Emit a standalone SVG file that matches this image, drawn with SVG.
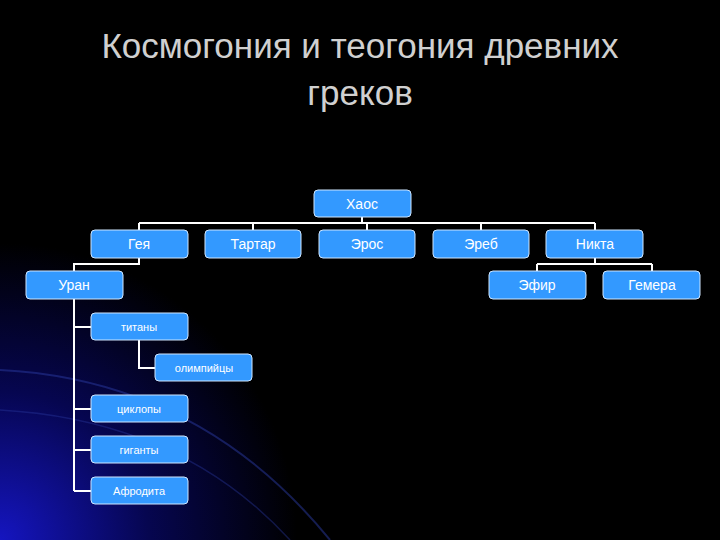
<svg xmlns="http://www.w3.org/2000/svg" width="720" height="540" viewBox="0 0 720 540">
<defs>
<radialGradient id="glow" cx="0" cy="1" r="0.55" gradientTransform="scale(0.75,1)">
<stop offset="0" stop-color="#1515c0"/>
<stop offset="0.5" stop-color="#060650"/>
<stop offset="1" stop-color="#000000"/>
</radialGradient>
<style>
.n rect{fill:#3399ff;stroke:#cfe6ff;stroke-width:1}
.n text{fill:#ffffff;font-family:"Liberation Sans",Arial,sans-serif;font-size:14px;text-anchor:middle;dominant-baseline:central}
.s text{font-size:11px}
.c{stroke:#ffffff;stroke-width:2;fill:none}
.t{fill:#d0d0d0;font-family:"Liberation Sans",Arial,sans-serif;font-size:35px;text-anchor:middle}
</style>
</defs>
<rect width="720" height="540" fill="#000"/>
<rect width="720" height="540" fill="url(#glow)"/>
<path d="M0 370 Q200 380 330 540" stroke="#2a3aa0" stroke-width="2" fill="none" opacity="0.5"/>
<path d="M0 410 Q180 420 290 540" stroke="#2a3aa0" stroke-width="1.5" fill="none" opacity="0.4"/>
<text class="t" x="360" y="58">Космогония и теогония древних</text>
<text class="t" x="360" y="105">греков</text>
<g id="connectors" class="c">
<path d="M362 217V223M139 223H595M139 223V230M253 223V230M367 223V230M481 223V230M595 223V230"/>
<path d="M139 258V264H74V271"/>
<path d="M595 258V264M537 264H652M537 264V271M652 264V271"/>
<path d="M74 299V491M74 327H91M74 409H91M74 450H91M74 491H91"/>
<path d="M139 340V368H155"/>
</g>
<g id="haos" class="n"><rect x="314" y="190" width="97" height="27" rx="4"/><text x="362" y="204">Хаос</text></g>
<g id="geya" class="n"><rect x="91" y="230" width="97" height="28" rx="4"/><text x="139" y="244">Гея</text></g>
<g id="tartar" class="n"><rect x="205" y="230" width="96" height="28" rx="4"/><text x="253" y="244">Тартар</text></g>
<g id="eros" class="n"><rect x="319" y="230" width="96" height="28" rx="4"/><text x="367" y="244">Эрос</text></g>
<g id="ereb" class="n"><rect x="433" y="230" width="96" height="28" rx="4"/><text x="481" y="244">Эреб</text></g>
<g id="nikta" class="n"><rect x="546" y="230" width="97" height="28" rx="4"/><text x="595" y="244">Никта</text></g>
<g id="uran" class="n"><rect x="26" y="271" width="97" height="28" rx="4"/><text x="74" y="285">Уран</text></g>
<g id="efir" class="n"><rect x="489" y="271" width="97" height="28" rx="4"/><text x="537" y="285">Эфир</text></g>
<g id="gemera" class="n"><rect x="603" y="271" width="97" height="28" rx="4"/><text x="652" y="285">Гемера</text></g>
<g id="titany" class="n s"><rect x="91" y="313" width="97" height="27" rx="4"/><text x="139" y="327">титаны</text></g>
<g id="olimpiytsy" class="n s"><rect x="155" y="354" width="97" height="27" rx="4"/><text x="204" y="368">олимпийцы</text></g>
<g id="tsiklopy" class="n s"><rect x="91" y="395" width="97" height="27" rx="4"/><text x="139" y="409">циклопы</text></g>
<g id="giganty" class="n s"><rect x="91" y="436" width="97" height="27" rx="4"/><text x="139" y="450">гиганты</text></g>
<g id="afrodita" class="n s"><rect x="91" y="477" width="97" height="27" rx="4"/><text x="139" y="491">Афродита</text></g>
</svg>
